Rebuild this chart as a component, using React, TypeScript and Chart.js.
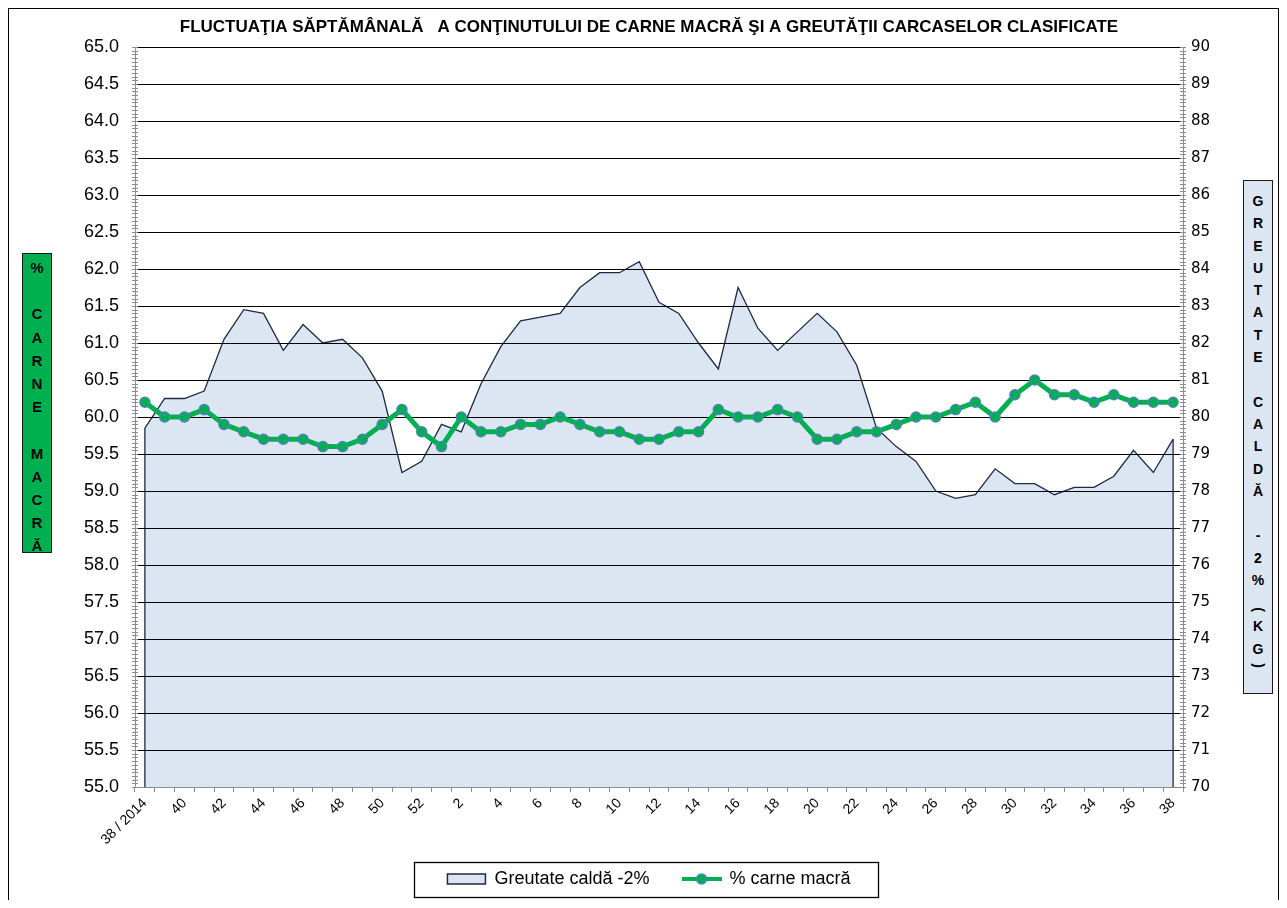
import React, { useEffect, useRef } from 'react';
import { Chart, registerables } from 'chart.js';

Chart.register(...registerables);

const TITLE = 'FLUCTUAŢIA SĂPTĂMÂNALĂ   A CONŢINUTULUI DE CARNE MACRĂ ŞI A GREUTĂŢII CARCASELOR CLASIFICATE';

const weekLabels = [
  '38 / 2014', '39', '40', '41', '42', '43', '44', '45', '46', '47', '48', '49', '50', '51', '52',
  '1', '2', '3', '4', '5', '6', '7', '8', '9', '10', '11', '12', '13', '14', '15', '16', '17', '18', '19',
  '20', '21', '22', '23', '24', '25', '26', '27', '28', '29', '30', '31', '32', '33', '34', '35', '36', '37', '38',
];

// % carne macră (left axis)
const carneMacra = [
  60.2, 60.0, 60.0, 60.1, 59.9, 59.8, 59.7, 59.7, 59.7, 59.6, 59.6, 59.7, 59.9, 60.1, 59.8,
  59.6, 60.0, 59.8, 59.8, 59.9, 59.9, 60.0, 59.9, 59.8, 59.8, 59.7, 59.7, 59.8, 59.8, 60.1, 60.0, 60.0, 60.1, 60.0,
  59.7, 59.7, 59.8, 59.8, 59.9, 60.0, 60.0, 60.1, 60.2, 60.0, 60.3, 60.5, 60.3, 60.3, 60.2, 60.3, 60.2, 60.2, 60.2,
];

// Greutate caldă -2% (right axis, kg)
const greutateCalda = [
  79.7, 80.5, 80.5, 80.7, 82.1, 82.9, 82.8, 81.8, 82.5, 82.0, 82.1, 81.6, 80.7, 78.5, 78.8,
  79.8, 79.6, 80.9, 81.9, 82.6, 82.7, 82.8, 83.5, 83.9, 83.9, 84.2, 83.1, 82.8, 82.0, 81.3, 83.5, 82.4, 81.8, 82.3,
  82.8, 82.3, 81.4, 79.7, 79.2, 78.8, 78.0, 77.8, 77.9, 78.6, 78.2, 78.2, 77.9, 78.1, 78.1, 78.4, 79.1, 78.5, 79.4,
];

const leftAxisRange = [55, 65];
const rightAxisRange = [70, 90];

const leftBoxLetters = ['%', '', 'C', 'A', 'R', 'N', 'E', '', 'M', 'A', 'C', 'R', 'Ă'];
const rightBoxLetters = [
  'G', 'R', 'E', 'U', 'T', 'A', 'T', 'E', '', 'C', 'A', 'L', 'D', 'Ă', '', '-', '2', '%', ' ', '(', 'K', 'G', ')',
];

const GREEN = '#00B050';
const MARKER_EDGE = '#4F81BD';
const AREA_FILL = '#DCE6F2';
const AREA_LINE = '#1B2A45';
const AXIS_GREY = '#8C8C8C';
const SANS = '"Liberation Sans", Arial, sans-serif';
const LEGEND_SHIFT = 8;

const decorPlugin = {
  id: 'decor',
  afterLayout(chart: any) {
    const lg = chart.legend;
    if (lg) {
      lg.top -= LEGEND_SHIFT;
      lg.bottom -= LEGEND_SHIFT;
    }
  },
  afterDatasetDraw(chart: any, args: any) {
    if (args.index !== 0) return;
    const { ctx, chartArea: ca } = chart;
    const ys = chart.scales.y;
    ctx.save();
    const meta = chart.getDatasetMeta(0);
    const p0 = meta.data[0];
    const pn = meta.data[meta.data.length - 1];
    ctx.strokeStyle = AREA_LINE;
    ctx.lineWidth = 1.3;
    ctx.beginPath();
    ctx.moveTo(p0.x, p0.y);
    ctx.lineTo(p0.x, ca.bottom);
    ctx.moveTo(pn.x, pn.y);
    ctx.lineTo(pn.x, ca.bottom);
    ctx.stroke();
    ctx.strokeStyle = '#000';
    ctx.lineWidth = 1;
    for (const t of ys.ticks) {
      if (t.value <= ys.min) continue;
      const yy = Math.round(ys.getPixelForValue(t.value)) + 0.5;
      ctx.beginPath();
      ctx.moveTo(ca.left, yy);
      ctx.lineTo(ca.right, yy);
      ctx.stroke();
    }
    ctx.restore();
  },
  afterDraw(chart: any) {
    const { ctx, chartArea: ca } = chart;
    const ys = chart.scales.y;
    const y2 = chart.scales.y2;
    ctx.save();
    ctx.strokeStyle = AXIS_GREY;
    ctx.lineWidth = 1;
    for (let i = 0; i <= 200; i++) {
      const v = ys.min + i * 0.05;
      const yy = Math.round(ys.getPixelForValue(v)) + 0.5;
      ctx.beginPath();
      ctx.moveTo(ca.left - 3, yy);
      ctx.lineTo(ca.left + 3, yy);
      ctx.stroke();
    }
    for (let i = 0; i <= 200; i++) {
      const v = y2.min + i * 0.1;
      const yy = Math.round(y2.getPixelForValue(v)) + 0.5;
      ctx.beginPath();
      ctx.moveTo(ca.right - 3, yy);
      ctx.lineTo(ca.right + 3, yy);
      ctx.stroke();
    }
    const hb = chart.legend && chart.legend.legendHitBoxes;
    if (hb && hb.length) {
      const first = hb[0];
      const last = hb[hb.length - 1];
      const l = Math.round(first.left - 33) + 0.5;
      const r = Math.round(last.left + last.width + 27) + 0.5;
      const t = Math.round(first.top - 8) + 0.5;
      const b = Math.round(first.top + first.height + 9) + 0.5;
      ctx.strokeStyle = '#000';
      ctx.lineWidth = 1.3;
      ctx.strokeRect(l, t, r - l, b - t);
    }
    ctx.restore();
  },
};

function VBox(props: any) {
  const { left, top, width, height, bg, items, padTop, fontSize, slot } = props;
  return (
    <div
      style={{
        position: 'absolute', left, top, width, height, background: bg,
        border: '1.5px solid #1a1a1a', boxSizing: 'border-box', paddingTop: padTop,
        fontFamily: SANS, fontWeight: 'bold', fontSize, color: '#000',
      }}
    >
      {items.map((c: string, i: number) => {
        const isParen = c === '(' || c === ')';
        const isSmallBlank = c === ' ';
        const h = isParen ? 11 : isSmallBlank ? 13 : slot;
        return (
          <div
            key={i}
            style={{
              height: h, lineHeight: h + 'px', textAlign: 'center',
              transform: isParen ? 'rotate(90deg)' : undefined,
            }}
          >
            {c === '' || c === ' ' ? '\u00a0' : c}
          </div>
        );
      })}
    </div>
  );
}

export default function App() {
  const ref = useRef<HTMLCanvasElement | null>(null);

  useEffect(() => {
    const canvas = ref.current;
    if (!canvas) return;

    const sw = document.createElement('canvas');
    sw.width = 40;
    sw.height = 14;
    const c = sw.getContext('2d')!;
    c.strokeStyle = GREEN;
    c.lineWidth = 4;
    c.beginPath();
    c.moveTo(0, 7);
    c.lineTo(40, 7);
    c.stroke();
    c.beginPath();
    c.arc(20, 7, 5, 0, Math.PI * 2);
    c.fillStyle = GREEN;
    c.fill();
    c.lineWidth = 1.5;
    c.strokeStyle = MARKER_EDGE;
    c.stroke();

    const chart = new Chart(canvas, {
      type: 'line',
      data: {
        labels: weekLabels,
        datasets: [
          {
            label: 'Greutate caldă -2%',
            data: greutateCalda,
            yAxisID: 'y2',
            fill: 'start',
            backgroundColor: AREA_FILL,
            borderColor: AREA_LINE,
            borderWidth: 1.3,
            pointRadius: 0,
            tension: 0,
            order: 1,
          },
          {
            label: '% carne macră',
            data: carneMacra,
            yAxisID: 'y',
            fill: false,
            borderColor: GREEN,
            borderWidth: 5,
            pointRadius: 5,
            pointBackgroundColor: GREEN,
            pointBorderColor: MARKER_EDGE,
            pointBorderWidth: 1.5,
            tension: 0,
            order: 0,
          },
        ],
      },
      options: {
        responsive: false,
        animation: false,
        events: [],
        layout: { padding: { left: 11, right: 0, top: 0, bottom: 7 } },
        plugins: {
          tooltip: { enabled: false },
          title: {
            display: true,
            text: TITLE,
            color: '#000',
            font: { family: SANS, size: 17, weight: 'bold' },
            lineHeight: 1.2,
            padding: { top: 8, bottom: 9.6 },
          },
          legend: {
            position: 'bottom',
            maxHeight: 56,
            labels: {
              usePointStyle: true,
              pointStyleWidth: 38,
              boxHeight: 10,
              padding: 33,
              color: '#000',
              font: { family: SANS, size: 18 },
              generateLabels: () => [
                {
                  text: 'Greutate caldă -2%',
                  fillStyle: AREA_FILL,
                  strokeStyle: AREA_LINE,
                  lineWidth: 1.5,
                  pointStyle: 'rect',
                  hidden: false,
                  datasetIndex: 0,
                  fontColor: '#000',
                },
                {
                  text: '% carne macră',
                  fillStyle: GREEN,
                  strokeStyle: GREEN,
                  lineWidth: 0,
                  pointStyle: sw,
                  hidden: false,
                  datasetIndex: 1,
                  fontColor: '#000',
                },
              ],
            },
          },
        },
        scales: {
          x: {
            offset: true,
            grid: {
              display: true,
              drawOnChartArea: false,
              drawTicks: true,
              tickLength: 5,
              tickColor: AXIS_GREY,
              color: AXIS_GREY,
              offset: true,
            },
            border: { display: true, color: AXIS_GREY, width: 1 },
            ticks: {
              autoSkip: false,
              maxRotation: 45,
              minRotation: 45,
              padding: 3,
              color: '#000',
              font: { family: SANS, size: 14 },
              callback: (_v: any, i: number) => (i % 2 === 0 ? weekLabels[i] : ''),
            },
            afterFit: (s: any) => { s.height = 58; },
          },
          y: {
            position: 'left',
            min: leftAxisRange[0],
            max: leftAxisRange[1],
            grid: { display: false, drawTicks: false },
            border: { display: true, color: AXIS_GREY, width: 1 },
            ticks: {
              stepSize: 0.5,
              padding: 16,
              color: '#000',
              font: { family: SANS, size: 18 },
              callback: (v: any) => Number(v).toFixed(1),
            },
            afterFit: (s: any) => { s.width = 115; },
          },
          y2: {
            position: 'right',
            min: rightAxisRange[0],
            max: rightAxisRange[1],
            grid: { display: false, drawTicks: false },
            border: { display: true, color: AXIS_GREY, width: 1 },
            ticks: {
              stepSize: 1,
              padding: 8,
              color: '#000',
              font: { family: '"DejaVu Sans", sans-serif', size: 15 },
              callback: (v: any) => String(v),
            },
            afterFit: (s: any) => { s.width = 95; },
          },
        },
      } as any,
      plugins: [decorPlugin],
    });

    return () => {
      chart.destroy();
    };
  }, []);

  return (
    <div style={{ position: 'relative', width: 1271, height: 892 }}>
      <div
        style={{
          position: 'absolute', left: 0, top: 0, width: 1271, height: 900,
          borderTop: '1px solid #000', borderLeft: '1px solid #000', borderRight: '1px solid #000',
          boxSizing: 'border-box', pointerEvents: 'none',
        }}
      />
      <canvas ref={ref} width={1269} height={899} style={{ position: 'absolute', left: 1, top: 1, display: 'block' }} />
      <VBox left={14} top={245} width={30} height={300} bg={GREEN} items={leftBoxLetters} padTop={2} fontSize={15} slot={23.2} />
      <VBox left={1235} top={172} width={30} height={514} bg={AREA_FILL} items={rightBoxLetters} padTop={9} fontSize={14} slot={22.3} />
    </div>
  );
}
